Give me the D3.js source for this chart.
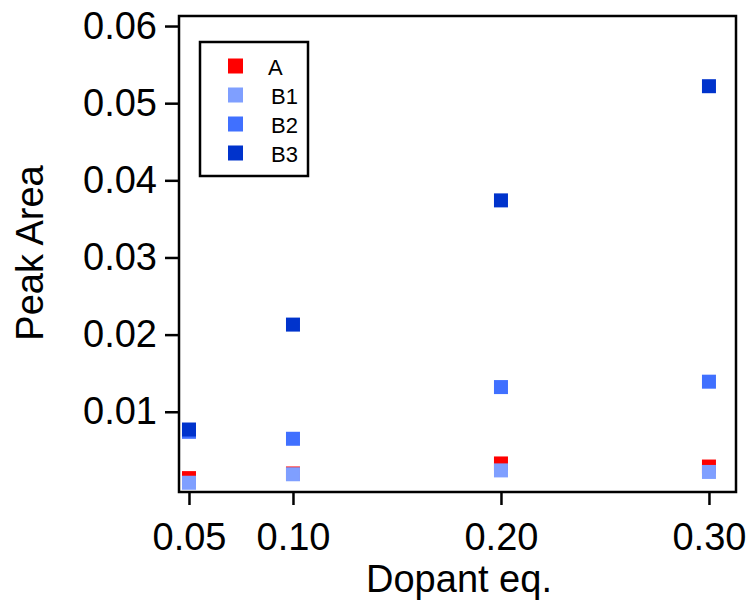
<!DOCTYPE html>
<html>
<head>
<meta charset="utf-8">
<script src="https://cdn.jsdelivr.net/npm/d3@7"></script>
<style>
  html, body { margin: 0; padding: 0; background: #fff; }
  svg { display: block; font-family: "Liberation Sans", Arial, Helvetica, sans-serif; }
</style>
</head>
<body>
<svg id="chart" width="747" height="602"></svg>
<script>
// Dopant equivalents on the x axis
const dopant = [0.05, 0.10, 0.20, 0.30];

// Peak areas per series
const seriesA  = [0.0014, 0.0020, 0.0033, 0.0029];
const seriesB1 = [0.0008, 0.0019, 0.0024, 0.0022];
const seriesB2 = [0.0074, 0.0065, 0.0132, 0.0139];
const seriesB3 = [0.0077, 0.0213, 0.0374, 0.0522];

const seriesNames  = ["A", "B1", "B2", "B3"];
const seriesColors = ["#ff0000", "#7f9fff", "#4070ff", "#0033cc"];

const xTicks = [0.05, 0.10, 0.20, 0.30];
const yTicks = [0.01, 0.02, 0.03, 0.04, 0.05, 0.06];

const series = [seriesA, seriesB1, seriesB2, seriesB3].map((vals, i) => ({
  name: seriesNames[i], color: seriesColors[i],
  points: vals.map((v, j) => ({ x: dopant[j], y: v }))
}));

const svg = d3.select("#chart");
const frame = { left: 179, right: 736, top: 16, bottom: 492 };

const x = d3.scaleLinear().domain([0.0452, 0.313]).range([frame.left, frame.right]);
const y = d3.scaleLinear().domain([-0.0004, 0.0613]).range([frame.bottom, frame.top]);

// plot frame
svg.append("rect")
  .attr("x", frame.left).attr("y", frame.top)
  .attr("width", frame.right - frame.left).attr("height", frame.bottom - frame.top)
  .attr("fill", "none").attr("stroke", "#000").attr("stroke-width", 2.5);

// markers
const size = 14;
series.forEach(s => {
  svg.append("g").selectAll("rect").data(s.points).join("rect")
    .attr("x", d => x(d.x) - size / 2)
    .attr("y", d => y(d.y) - size / 2)
    .attr("width", size).attr("height", size)
    .attr("fill", s.color);
});

// axes
const fontSize = 38;
const xAxis = svg.append("g")
  .attr("transform", `translate(0,${frame.bottom})`)
  .call(d3.axisBottom(x).tickValues(xTicks).tickFormat(d3.format(".2f")).tickSize(13).tickPadding(18));
const yAxis = svg.append("g")
  .attr("transform", `translate(${frame.left},0)`)
  .call(d3.axisLeft(y).tickValues(yTicks).tickFormat(d3.format(".2f")).tickSize(14).tickPadding(8));

[xAxis, yAxis].forEach(g => {
  g.select(".domain").remove();
  g.selectAll(".tick line").attr("stroke", "#000").attr("stroke-width", 2.5);
  g.selectAll(".tick text").attr("fill", "#000")
    .style("font-size", fontSize + "px")
    .style("font-family", '"Liberation Sans", Arial, sans-serif');
});

// axis titles
svg.append("text")
  .attr("x", 459).attr("y", 592)
  .attr("text-anchor", "middle")
  .style("font-size", fontSize + "px")
  .text("Dopant eq.");

svg.append("text")
  .attr("transform", "translate(43,253) rotate(-90)")
  .attr("text-anchor", "middle")
  .style("font-size", fontSize + "px")
  .text("Peak Area");

// legend
const legend = svg.append("g").attr("transform", "translate(200,42)");
legend.append("rect")
  .attr("width", 108).attr("height", 134)
  .attr("fill", "#fff").attr("stroke", "#000").attr("stroke-width", 2.5);
const rows = legend.selectAll("g.row").data(series).join("g")
  .attr("class", "row")
  .attr("transform", (d, i) => `translate(0,${24.5 + i * 29})`);
rows.append("rect")
  .attr("x", 28).attr("y", -8).attr("width", 15).attr("height", 15)
  .attr("fill", d => d.color);
rows.append("text")
  .attr("x", d => d.name === "A" ? 68 : 71).attr("y", 8)
  .style("font-size", "22px")
  .text(d => d.name);
</script>
</body>
</html>
